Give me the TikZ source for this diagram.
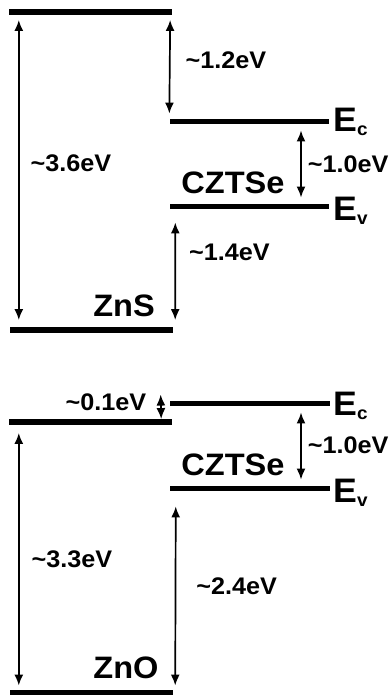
\documentclass[tikz,border=0pt]{standalone}
\usepackage{fontspec}
\setmainfont{Liberation Sans}[FakeStretch=1.05]
\usetikzlibrary{arrows.meta}

\newcommand{\bandname}[1]{E\raisebox{-4pt}{\fontsize{18}{18}\selectfont #1}}

\begin{document}
\begin{tikzpicture}[x=1pt,y=-1pt]
\tikzset{
bandline/.style={rectangle,fill=black,inner sep=0pt,minimum height=5.5pt},
gaparrow/.style={{Latex[length=11pt,width=9pt]}-{Latex[length=11pt,width=9pt]}, line width=1.7pt, shorten <=5pt, shorten >=5pt},
elabel/.style={inner sep=0pt, anchor=west, font=\bfseries\fontsize{24}{26}\selectfont},
mlabel/.style={inner sep=0pt, font=\bfseries\fontsize{31}{33}\selectfont},
bandlabel/.style={inner sep=0pt, anchor=base west, font=\bfseries\fontsize{34}{36}\selectfont},
}
\useasboundingbox (0,0) rectangle (391,695);

% top: ZnS / CZTSe
\node[bandline, minimum width=163pt] (znscb) at (90.5,12) {};
\node[bandline, minimum width=159pt] (ec1) at (249,121.5) {};
\node[bandline, minimum width=159pt] (ev1) at (249,206.5) {};
\node[bandline, minimum width=163pt] (znsvb) at (91.5,330) {};

\node[bandlabel] (ec1lab) at (333,132) {\bandname{c}};
\node[bandlabel] (ev1lab) at (333,220) {\bandname{v}};
\node[mlabel] (czts1) at (233,183) {CZTSe};
\node[mlabel] (zns) at (124,306) {ZnS};

\draw[gaparrow, shorten >=7pt] ([xshift=10pt]znscb.south west) -- node[elabel, xshift=11pt, yshift=8pt] (l36) {\textasciitilde3.6eV} ([xshift=9pt]znsvb.north west);
\draw[gaparrow] ([xshift=-2pt]znscb.south east) -- node[elabel, xshift=15pt, yshift=7pt] (l12) {\textasciitilde1.2eV} (ec1.north west);
\draw[gaparrow, shorten <=6pt, shorten >=6pt] ([xshift=52pt]ec1.south) -- node[elabel, xshift=6pt, yshift=0pt] (l10a) {\textasciitilde1.0eV} ([xshift=52pt]ev1.north);
\draw[gaparrow, shorten <=13pt, shorten >=7pt] ([xshift=6pt]ev1.south west) -- node[elabel, xshift=13pt, yshift=15.5pt] (l14) {\textasciitilde1.4eV} ([xshift=2pt]znsvb.north east);

% bottom: ZnO / CZTSe
\node[bandline, minimum width=163pt] (znocb) at (90.5,422) {};
\node[bandline, minimum width=160pt] (ec2) at (250,403.5) {};
\node[bandline, minimum width=160pt] (ev2) at (250,488.5) {};
\node[bandline, minimum width=163pt] (znovb) at (91.5,692.5) {};

\node[bandlabel] (ec2lab) at (333,415) {\bandname{c}};
\node[bandlabel] (ev2lab) at (333,502) {\bandname{v}};
\node[mlabel] (czts2) at (233,465) {CZTSe};
\node[mlabel] (zno) at (126,668) {ZnO};

\draw[gaparrow, shorten <=-6pt, shorten >=0pt] ([xshift=-9pt]ec2.north west) -- node[elabel, anchor=east, xshift=-14pt, yshift=8pt] (l01) {\textasciitilde0.1eV} ([xshift=-11pt]znocb.north east);
\draw[gaparrow, shorten <=6pt, shorten >=6pt] ([xshift=51pt]ec2.south) -- node[elabel, xshift=6pt, yshift=1pt] (l10b) {\textasciitilde1.0eV} ([xshift=51pt]ev2.north);
\draw[gaparrow, shorten <=8pt, shorten >=4pt] ([xshift=10pt]znocb.south west) -- node[elabel, xshift=12pt, yshift=-2pt] (l33) {\textasciitilde3.3eV} ([xshift=9pt]znovb.north west);
\draw[gaparrow, shorten <=15pt, shorten >=4pt] ([xshift=6pt]ev2.south west) -- node[elabel, xshift=20pt, yshift=4pt] (l24) {\textasciitilde2.4eV} ([xshift=2pt]znovb.north east);
\end{tikzpicture}
\end{document}
